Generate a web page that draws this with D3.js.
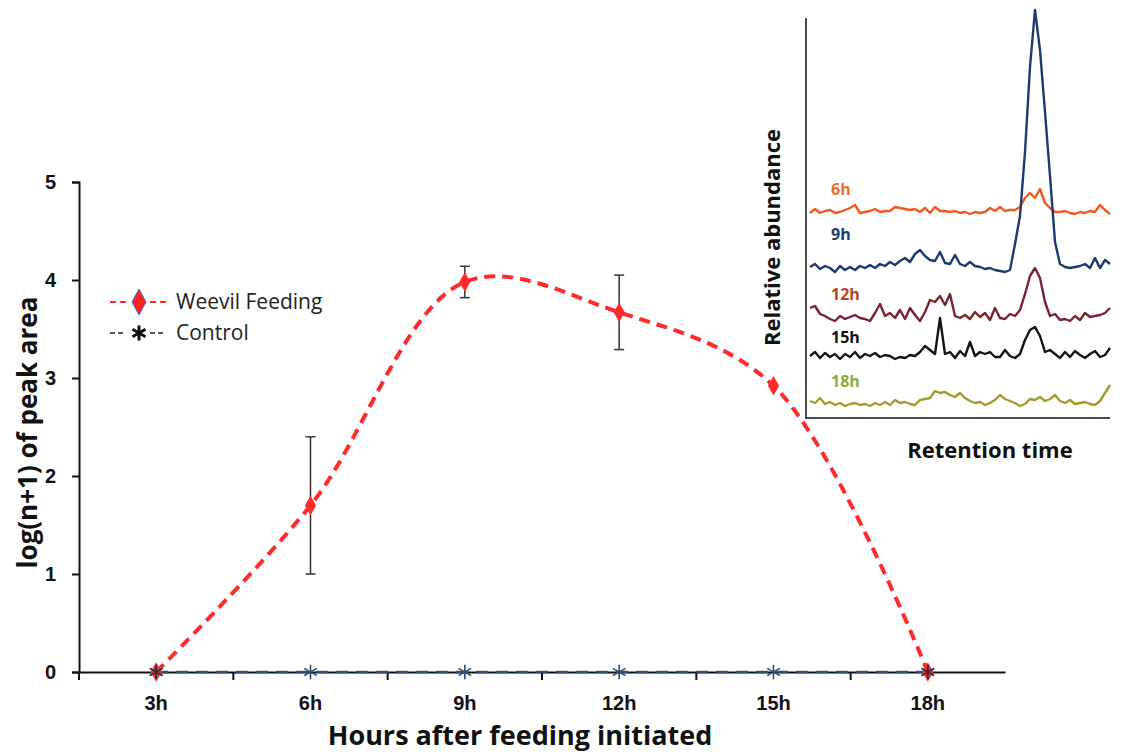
<!DOCTYPE html>
<html>
<head>
<meta charset="utf-8">
<script src="https://cdn.jsdelivr.net/npm/d3@7"></script>
<style>
  body { margin: 0; background: #fff; }
  svg { display: block; font-family: "Open Sans", Lato, sans-serif; }
</style>
</head>
<body>
<svg id="chart" width="1138" height="756"></svg>
<script>
// main chart data
const hours = ["3h", "6h", "9h", "12h", "15h", "18h"]
const weevil = [0, 1.70, 3.98, 3.67, 2.92, 0]
const weevilErr = [0, 0.70, 0.16, 0.38, 0, 0]
const control = [0, 0, 0, 0, 0, 0]
const yTicks = [0, 1, 2, 3, 4, 5]

// inset chromatogram data (signal height above each trace's baseline)
const traceLabels = ["6h", "9h", "12h", "15h", "18h"]
const traceOffsets = [203, 146, 96, 58, 11]
const trace6h = [2,6,2,4,5,2,3,5,7,10,2,3,4,6,3,4,4,8,7,6,5,6,3,7,2,8,4,4,3,4,2,3,1,3,2,3,7,4,8,4,5,5,8,17,22,17,26,12,7,3,3,4,2,1,3,2,4,3,10,5,1]
const trace9h = [5,8,3,6,4,0,6,2,5,2,6,4,7,4,8,6,10,7,11,14,10,18,22,16,12,11,20,9,8,17,8,6,10,6,5,3,4,2,1,0,2,28,56,120,205,262,222,160,96,30,8,5,4,5,6,8,4,14,4,12,8]
const trace12h = [14,16,8,6,3,1,6,3,5,7,4,3,1,9,18,6,9,4,12,3,14,7,1,10,22,20,26,17,28,6,4,7,3,10,5,9,2,14,4,3,8,6,12,28,46,54,44,20,6,8,2,3,1,6,2,9,5,6,7,9,14]
const trace15h = [4,8,2,7,3,6,1,6,3,8,2,6,4,7,3,5,4,1,3,2,5,4,8,14,10,6,42,6,8,2,9,4,18,4,8,6,8,3,3,10,4,2,6,20,30,33,24,8,10,6,2,8,3,9,5,2,6,9,3,5,12]
const trace18h = [6,4,9,3,5,2,4,1,3,4,2,3,1,4,2,5,2,7,4,5,3,2,7,8,9,16,14,15,12,10,14,9,6,4,5,2,4,7,12,8,6,4,1,3,8,7,10,6,8,12,6,4,7,3,4,5,3,2,6,14,22]
const traces = [trace6h, trace9h, trace12h, trace15h, trace18h]
const traceColors = ["#f4571f", "#1c3a6e", "#7a2232", "#141414", "#a39b2c"]
const labelColors = ["#f26a2a", "#1e3c6e", "#b5452a", "#111111", "#8cae3c"]

const svg = d3.select("#chart")

// ---- main chart ----
const x = d3.scaleBand().domain(hours).range([79, 1005]).padding(0)
const y = d3.scaleLinear().domain([0, 5]).range([672, 182])

const xAxis = d3.axisBottom(x).tickSize(0).tickPadding(24)
const gx = svg.append("g").attr("transform", `translate(0,${y(0)})`).call(xAxis)
gx.select(".domain").attr("stroke", "#111").attr("stroke-width", 2)
gx.selectAll("text").attr("font-size", 20).attr("font-weight", "bold").attr("fill", "#111")

// tick marks sit on the band boundaries
svg.append("g").selectAll("line")
    .data(hours)
    .join("line")
    .attr("x1", d => x(d)).attr("x2", d => x(d))
    .attr("y1", y(0)).attr("y2", y(0) + 8)
    .attr("stroke", "#111").attr("stroke-width", 2)

const yAxis = d3.axisLeft(y).tickValues(yTicks).tickFormat(d3.format("d")).tickSizeOuter(0).tickSize(7).tickPadding(16)
const gy = svg.append("g").attr("transform", "translate(79,0)").call(yAxis)
gy.select(".domain").attr("stroke", "#111").attr("stroke-width", 2)
gy.selectAll(".tick line").attr("stroke", "#111").attr("stroke-width", 2)
gy.selectAll("text").attr("font-size", 20).attr("font-weight", "bold").attr("fill", "#111")

svg.append("text")
    .attr("transform", `translate(37,${(250 + 615) / 2}) rotate(-90)`)
    .attr("text-anchor", "middle")
    .attr("font-size", 26).attr("font-weight", "bold").attr("fill", "#111")
    .text("log(n+1) of peak area")

svg.append("text")
    .attr("x", 520).attr("y", 745)
    .attr("text-anchor", "middle")
    .attr("font-size", 27).attr("font-weight", "bold").attr("fill", "#111")
    .text("Hours after feeding initiated")

const cx = d => x(d) + x.bandwidth() / 2

// control series
svg.append("path")
    .datum(control)
    .attr("fill", "none").attr("stroke", "#2f4f70").attr("stroke-width", 2.5)
    .attr("stroke-dasharray", "12,8")
    .attr("d", d3.line().x((d, i) => cx(hours[i])).y(d => y(d)))

const star = d3.symbol().type(d3.symbolAsterisk).size(150)
svg.append("g").selectAll("path")
    .data(control)
    .join("path")
    .attr("transform", (d, i) => `translate(${cx(hours[i])},${y(d)})`)
    .attr("d", star)
    .attr("fill", "none").attr("stroke", "#2f4f70").attr("stroke-width", 1.6)

// weevil series, smoothed
svg.append("path")
    .datum(weevil)
    .attr("fill", "none").attr("stroke", "#ff2a2a").attr("stroke-width", 4)
    .attr("stroke-dasharray", "11,7")
    .attr("d", d3.line().curve(d3.curveCatmullRom.alpha(0.5)).x((d, i) => cx(hours[i])).y(d => y(d)))

// error bars
const errG = svg.append("g").attr("stroke", "#333").attr("stroke-width", 1.5)
weevil.forEach((v, i) => {
    if (!weevilErr[i]) return
    const px = cx(hours[i])
    errG.append("line").attr("x1", px).attr("x2", px).attr("y1", y(v + weevilErr[i])).attr("y2", y(v - weevilErr[i]))
    errG.append("line").attr("x1", px - 5).attr("x2", px + 5).attr("y1", y(v + weevilErr[i])).attr("y2", y(v + weevilErr[i]))
    errG.append("line").attr("x1", px - 5).attr("x2", px + 5).attr("y1", y(v - weevilErr[i])).attr("y2", y(v - weevilErr[i]))
})

const diamond = d3.symbol().type(d3.symbolDiamond).size(110)
svg.append("g").selectAll("path")
    .data(weevil)
    .join("path")
    .attr("transform", (d, i) => `translate(${cx(hours[i])},${y(d)})`)
    .attr("d", diamond)
    .attr("fill", "#ff2a2a")

// control markers drawn again on top at 3h / 18h like the original
svg.append("g").selectAll("path")
    .data([control[0], control[5]])
    .join("path")
    .attr("transform", (d, i) => `translate(${cx(hours[i * 5])},${y(d)})`)
    .attr("d", star)
    .attr("fill", "none").attr("stroke", "#1e2e44").attr("stroke-width", 1.6)

// legend
const leg = svg.append("g")
leg.append("line").attr("x1", 110).attr("x2", 130).attr("y1", 302).attr("y2", 302)
    .attr("stroke", "#ff2a2a").attr("stroke-width", 2).attr("stroke-dasharray", "6,4")
leg.append("line").attr("x1", 150).attr("x2", 168).attr("y1", 302).attr("y2", 302)
    .attr("stroke", "#ff2a2a").attr("stroke-width", 2).attr("stroke-dasharray", "6,4")
leg.append("path").attr("d", "M139,289 L146,302 L139,315 L132,302 Z")
    .attr("fill", "#ff2020").attr("stroke", "#3a6fd8").attr("stroke-width", 1)
leg.append("text").attr("x", 176).attr("y", 309).attr("font-size", 21).attr("fill", "#222").text("Weevil Feeding")

leg.append("line").attr("x1", 110).attr("x2", 124).attr("y1", 333).attr("y2", 333)
    .attr("stroke", "#222").attr("stroke-width", 1.5).attr("stroke-dasharray", "5,3")
leg.append("line").attr("x1", 150).attr("x2", 164).attr("y1", 333).attr("y2", 333)
    .attr("stroke", "#222").attr("stroke-width", 1.5).attr("stroke-dasharray", "5,3")
leg.append("path").attr("transform", "translate(139,333)")
    .attr("d", d3.symbol().type(d3.symbolAsterisk).size(160))
    .attr("fill", "none").attr("stroke", "#111").attr("stroke-width", 3)
leg.append("text").attr("x", 176).attr("y", 340).attr("font-size", 21).attr("fill", "#222").text("Control")

// ---- inset chromatogram ----
const xi = d3.scaleLinear().domain([0, trace6h.length - 1]).range([810, 1110])
const yi = d3.scaleLinear().domain([0, 410]).range([418, 8])

svg.append("line").attr("x1", 806).attr("x2", 806).attr("y1", 18).attr("y2", 419)
    .attr("stroke", "#111").attr("stroke-width", 1.5)
svg.append("line").attr("x1", 806).attr("x2", 1110).attr("y1", 418).attr("y2", 418)
    .attr("stroke", "#111").attr("stroke-width", 1.5)

traces.forEach((tr, k) => {
    svg.append("path")
        .datum(tr)
        .attr("fill", "none").attr("stroke", traceColors[k]).attr("stroke-width", 2.4)
        .attr("stroke-linejoin", "round")
        .attr("d", d3.line().x((d, i) => xi(i)).y(d => yi(d + traceOffsets[k])))
})

const labelY = [195, 240, 300, 343, 387]
svg.append("g").selectAll("text")
    .data(traceLabels)
    .join("text")
    .attr("x", 831).attr("y", (d, i) => labelY[i])
    .attr("font-size", 16).attr("font-weight", "bold")
    .attr("fill", (d, i) => labelColors[i])
    .text(d => d)

svg.append("text")
    .attr("transform", `translate(780,${(130 + 345) / 2}) rotate(-90)`)
    .attr("text-anchor", "middle")
    .attr("font-size", 22).attr("font-weight", "bold").attr("fill", "#111")
    .text("Relative abundance")

svg.append("text")
    .attr("x", 990).attr("y", 458)
    .attr("text-anchor", "middle")
    .attr("font-size", 22).attr("font-weight", "bold").attr("fill", "#111")
    .text("Retention time")
</script>
</body>
</html>
